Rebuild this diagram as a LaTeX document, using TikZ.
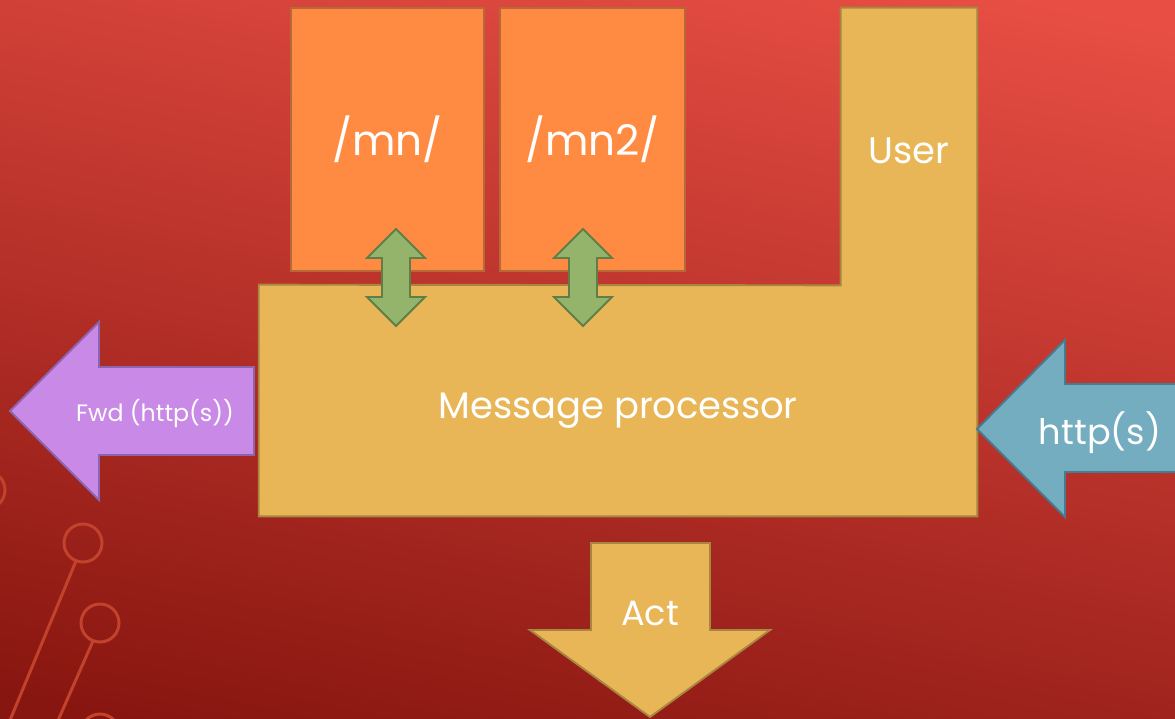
\documentclass[tikz,border=0pt]{standalone}
\usepackage{fontspec}
\setmainfont{Poppins}
\usepackage{tikz}
\definecolor{bgtop}{RGB}{232,78,68}
\definecolor{bgbot}{RGB}{136,22,16}
\definecolor{deco}{RGB}{194,66,44}
\definecolor{orangefill}{RGB}{255,139,66}
\definecolor{orangeline}{RGB}{182,104,56}
\definecolor{goldfill}{RGB}{232,182,86}
\definecolor{goldline}{RGB}{168,134,64}
\definecolor{greenfill}{RGB}{147,180,106}
\definecolor{greenline}{RGB}{96,126,72}
\definecolor{purplefill}{RGB}{200,138,230}
\definecolor{purpleline}{RGB}{142,100,176}
\definecolor{tealfill}{RGB}{116,172,192}
\definecolor{tealline}{RGB}{70,124,146}
\tikzstyle{pathbox} = [draw=orangeline, fill=orangefill, line width=1.1pt, text=white, font=\fontsize{24}{28}\selectfont]
\tikzstyle{goldbox} = [fill=goldfill]
\tikzstyle{label} = [text=white, font=\fontsize{20}{24}\selectfont]

\newcommand\updown[1]{%
	\draw[fill=greenfill, draw=greenline, line width=1.1pt]
	(#1,229) -- (#1+29,258) -- (#1+14,258) -- (#1+14,297) -- (#1+29,297) -- (#1,326)
	-- (#1-29,297) -- (#1-14,297) -- (#1-14,258) -- (#1-29,258) -- cycle;}

\begin{document}
\begin{tikzpicture}[x=0.02cm, y=-0.02cm]
	\useasboundingbox (0,0) rectangle (1175,719);
	\clip (0,0) rectangle (1175,719);
	\shade[top color=bgtop, bottom color=bgbot, shading angle=-12] (-50,-50) rectangle (1225,769);
	% circuit decoration
	\draw[deco, line width=1.7pt] (-14,490) circle (19);
	\draw[deco, line width=1.7pt] (83,543) circle (19) (76,561) -- (8,725);
	\draw[deco, line width=1.7pt] (100,623) circle (19) (93,641) -- (56,725);
	\draw[deco, line width=1.7pt] (100,733) circle (19);
	% blocks
	\node[pathbox, minimum width=3.86cm, minimum height=5.26cm] (mn) at (387.5,139.5) {/mn/};
	\node[pathbox, minimum width=3.7cm, minimum height=5.26cm] (mntwo) at (592.5,139.5) {/mn2/};
	\node[goldbox, minimum width=14.36cm, minimum height=4.62cm] (proc) at (618,400.5) {};
	\node[goldbox, minimum width=2.72cm, minimum height=5.54cm] (user) at (909,146.5) {};
	\draw[goldline, line width=1.1pt] (proc.north west) -- (user.south west) -- (user.north west)
		-- (user.north east) -- (proc.south east) -- (proc.south west) -- cycle;
	\node[label, font=\fontsize{21}{25}\selectfont] (proctext) at (618,411) {Message processor};
	\node[label, font=\fontsize{21}{25}\selectfont] (usertext) at (909,151) {User};
	\updown{396}
	\updown{583}
	% arrows in and out
	\draw[fill=purplefill, draw=purpleline, line width=1.1pt] (10,411) -- (99,322) -- (99,367) -- (254,367)
		-- (254,455) -- (99,455) -- (99,500) -- cycle;
	\node[label, font=\fontsize{13.5}{16}\selectfont] (fwd) at (155,414) {Fwd (http(s))};
	\draw[fill=tealfill, draw=tealline, line width=1.1pt] (977,429) -- (1065,340) -- (1065,384) -- (1185,384)
		-- (1185,472) -- (1065,472) -- (1065,517) -- cycle;
	\node[label] (http) at (1100,433) {http(s)};
	\draw[fill=goldfill, draw=goldline, line width=1.1pt] (591,543) -- (710,543) -- (710,630) -- (770,630)
		-- (650,717) -- (530,630) -- (591,630) -- cycle;
	\node[label] (act) at (650,613) {Act};
\end{tikzpicture}
\end{document}
